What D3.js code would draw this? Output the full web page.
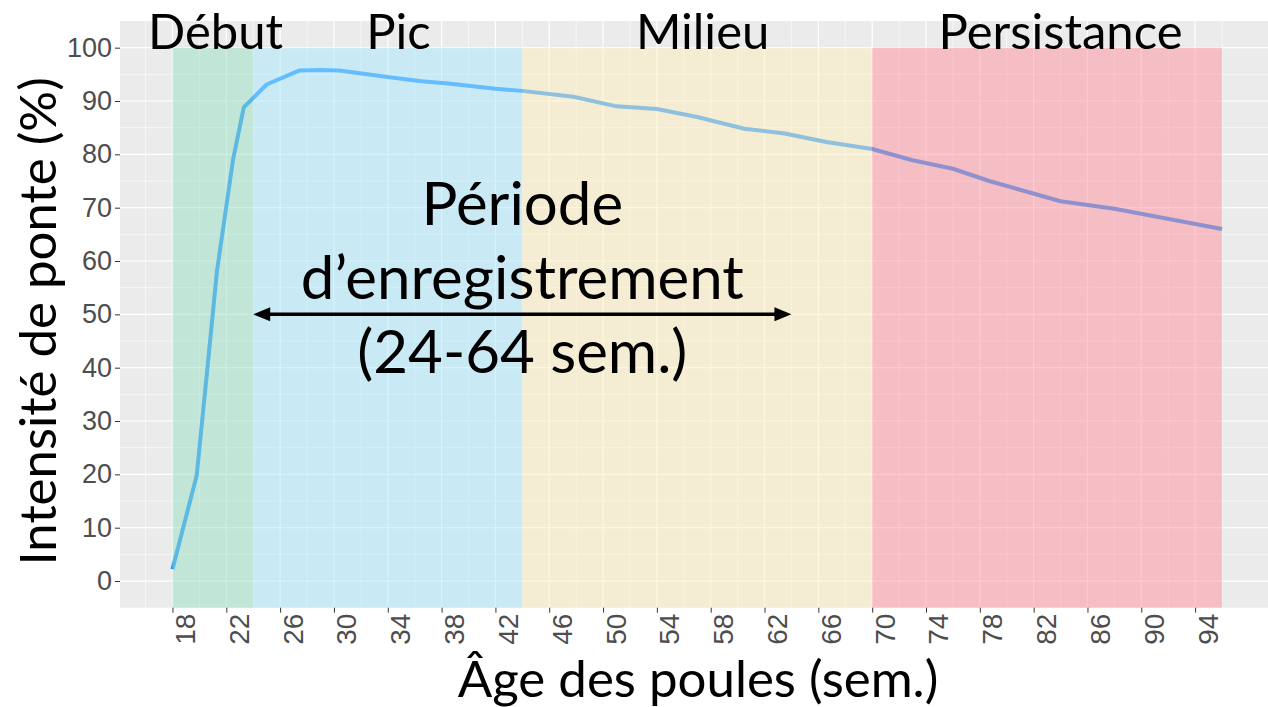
<!DOCTYPE html>
<html>
<head>
<meta charset="utf-8">
<script src="https://cdn.jsdelivr.net/npm/d3@7"></script>
<style>
  body { margin: 0; background: #fff; }
  svg { display: block; }
</style>
</head>
<body>
<div id="chart"></div>
<script>
// Courbe de ponte (age en semaines, intensite en %)
const weeks = [18, 19.8, 20.6, 21.3, 22.5, 23.3, 25, 27.4, 29, 30.4, 34, 36.5, 38.5, 42, 44, 47.8, 51, 54, 57, 60.5, 63.5, 66.6, 70, 73, 76, 78.7, 84, 88, 96];
const ponte = [2.2, 19.8, 40, 58, 79, 88.8, 93.1, 95.7, 95.8, 95.7, 94.5, 93.7, 93.3, 92.3, 91.9, 90.8, 89.0, 88.5, 87.0, 84.8, 83.9, 82.3, 81.0, 78.9, 77.3, 75.0, 71.2, 69.8, 66];

// Phases de ponte
const phaseNames = ["Début", "Pic", "Milieu", "Persistance"];
const phaseStart = [18, 24, 44, 70];
const phaseEnd = [24, 44, 70, 96];
const phaseColors = ["#97e1c5", "#a7e9ff", "#ffefbb", "#fd919d"];
const phaseLabelAt = [21.2, 34.8, 57.4, 84];

// Periode d'enregistrement
const recStart = 24, recEnd = 64, recLevel = 50;
const recLines = ["Période", "d’enregistrement", "(24-64 sem.)"];

const xTicks = d3.range(18, 95, 4);
const yTicks = d3.range(0, 101, 10);

const width = 1268, height = 707;
const panel = { left: 120, right: 1274.5, top: 21, bottom: 607.7 };

const svg = d3.select("#chart")
    .append("svg")
    .attr("width", width)
    .attr("height", height);

const x = d3.scaleLinear().domain([14.1, 99.9]).range([panel.left, panel.right]);
const y = d3.scaleLinear().domain([-5, 105]).range([panel.bottom, panel.top]);

// panel background
svg.append("rect")
    .attr("x", panel.left).attr("y", panel.top)
    .attr("width", panel.right - panel.left)
    .attr("height", panel.bottom - panel.top)
    .attr("fill", "#ebebeb");

// grid lines
const grid = svg.append("g");
grid.selectAll(".xminor")
    .data(d3.range(16, 99, 4))
    .enter().append("line")
    .attr("x1", d => x(d)).attr("x2", d => x(d))
    .attr("y1", panel.top).attr("y2", panel.bottom)
    .attr("stroke", "#fff").attr("stroke-width", 0.6);
grid.selectAll(".yminor")
    .data(d3.range(5, 100, 10))
    .enter().append("line")
    .attr("x1", panel.left).attr("x2", panel.right)
    .attr("y1", d => y(d)).attr("y2", d => y(d))
    .attr("stroke", "#fff").attr("stroke-width", 0.6);
grid.selectAll(".xmajor")
    .data(xTicks)
    .enter().append("line")
    .attr("x1", d => x(d)).attr("x2", d => x(d))
    .attr("y1", panel.top).attr("y2", panel.bottom)
    .attr("stroke", "#fff").attr("stroke-width", 1.2);
grid.selectAll(".ymajor")
    .data(yTicks)
    .enter().append("line")
    .attr("x1", panel.left).attr("x2", panel.right)
    .attr("y1", d => y(d)).attr("y2", d => y(d))
    .attr("stroke", "#fff").attr("stroke-width", 1.2);

// laying curve (under the tinted phases)
const line = d3.line()
    .x((d, i) => x(weeks[i]))
    .y(d => y(d));

svg.append("path")
    .datum(ponte)
    .attr("d", line)
    .attr("fill", "none")
    .attr("stroke", "#1e90ff")
    .attr("stroke-width", 4)
    .attr("stroke-linejoin", "round");

// phase rectangles
svg.selectAll(".phase")
    .data(phaseNames)
    .enter().append("rect")
    .attr("class", "phase")
    .attr("x", (d, i) => x(phaseStart[i]))
    .attr("width", (d, i) => x(phaseEnd[i]) - x(phaseStart[i]))
    .attr("y", y(100))
    .attr("height", y(0) - y(100) + (y(-5) - y(0)))
    .attr("fill", (d, i) => phaseColors[i])
    .attr("opacity", 0.5);

// phase labels
svg.selectAll(".phaseLabel")
    .data(phaseNames)
    .enter().append("text")
    .attr("x", (d, i) => x(phaseLabelAt[i]))
    .attr("y", y(100) + 1.5)
    .attr("text-anchor", "middle")
    .style("font-family", "Lato, sans-serif")
    .style("font-size", "49px")
    .attr("fill", "#000")
    .text(d => d);

// axes
const yAxis = svg.append("g")
    .attr("transform", `translate(${panel.left},0)`)
    .call(d3.axisLeft(y).tickValues(yTicks).tickSize(5).tickPadding(3));
yAxis.select(".domain").remove();
yAxis.selectAll("line").attr("stroke", "#333");
yAxis.selectAll("text")
    .attr("fill", "#4d4d4d")
    .style("font-family", "'Liberation Sans', Arial, sans-serif")
    .style("font-size", "27px");

const xAxis = svg.append("g")
    .attr("transform", `translate(0,${panel.bottom})`)
    .call(d3.axisBottom(x).tickValues(xTicks).tickSize(5));
xAxis.select(".domain").remove();
xAxis.selectAll("line").attr("stroke", "#333");
xAxis.selectAll("text")
    .attr("fill", "#4d4d4d")
    .style("font-family", "'Liberation Sans', Arial, sans-serif")
    .style("font-size", "28px")
    .attr("transform", "rotate(-90)")
    .attr("text-anchor", "end")
    .attr("x", -6)
    .attr("y", 22)
    .attr("dy", 0);

// axis titles
svg.append("text")
    .attr("x", (panel.left + 1268) / 2 + 4)
    .attr("y", 697)
    .attr("text-anchor", "middle")
    .style("font-family", "Lato, sans-serif")
    .style("font-size", "51px")
    .text("Âge des poules (sem.)");

svg.append("text")
    .attr("transform", `translate(56,${(panel.top + panel.bottom) / 2 + 7}) rotate(-90)`)
    .attr("text-anchor", "middle")
    .style("font-family", "Lato, sans-serif")
    .style("font-size", "51px")
    .text("Intensité de ponte (%)");

// recording period arrow
const ay = y(recLevel), ax1 = x(recStart), ax2 = x(recEnd);
const headL = 17, headH = 7;
svg.append("line")
    .attr("x1", ax1 + headL - 2).attr("x2", ax2 - headL + 2)
    .attr("y1", ay).attr("y2", ay)
    .attr("stroke", "#000").attr("stroke-width", 3.5);
svg.append("path")
    .attr("d", `M${ax1},${ay} L${ax1 + headL},${ay - headH} L${ax1 + headL},${ay + headH} Z`)
    .attr("fill", "#000");
svg.append("path")
    .attr("d", `M${ax2},${ay} L${ax2 - headL},${ay - headH} L${ax2 - headL},${ay + headH} Z`)
    .attr("fill", "#000");

// recording period text
const recX = x(44);
const recBase = [ay - 89, ay - 15, ay + 59];
svg.selectAll(".rec")
    .data(recLines)
    .enter().append("text")
    .attr("x", recX)
    .attr("y", (d, i) => recBase[i])
    .attr("text-anchor", "middle")
    .style("font-family", "Lato, sans-serif")
    .style("font-size", "60px")
    .attr("fill", "#000")
    .text(d => d);
</script>
</body>
</html>
